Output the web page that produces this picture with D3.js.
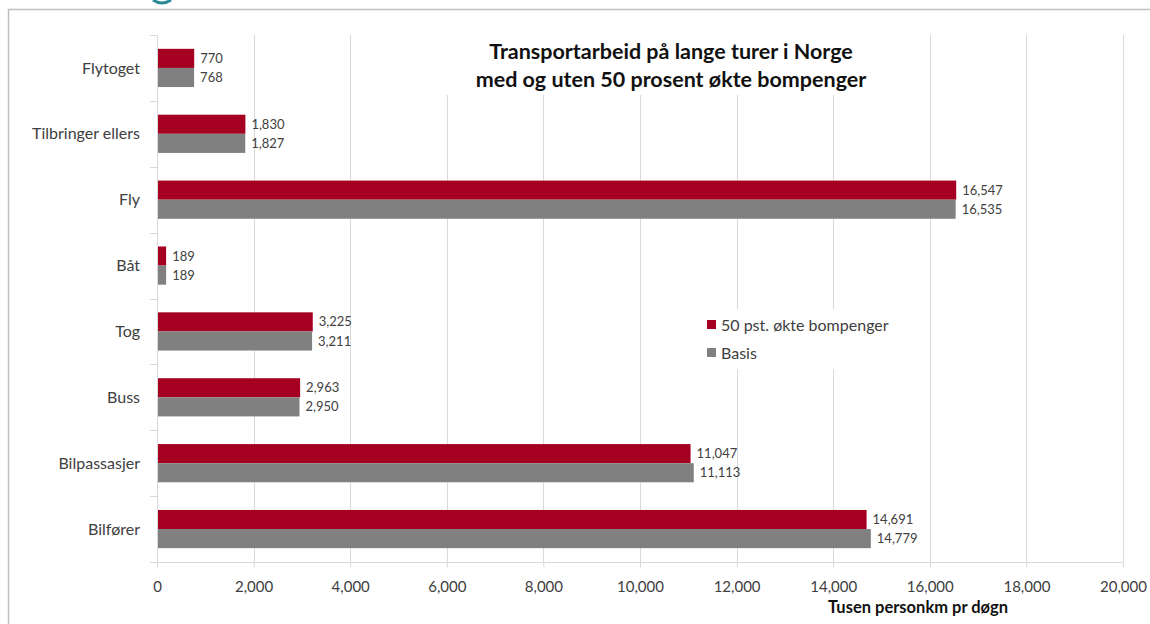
<!DOCTYPE html>
<html>
<head>
<meta charset="utf-8">
<script src="https://cdn.jsdelivr.net/npm/d3@7"></script>
<style>
  body { margin: 0; background: #fff; }
  svg { display: block; font-family: Lato, "Open Sans", sans-serif; }
</style>
</head>
<body>
<script>
// values
const categories = ['Flytoget', 'Tilbringer ellers', 'Fly', 'Båt', 'Tog', 'Buss', 'Bilpassasjer', 'Bilfører'];
const okte  = [770, 1830, 16547, 189, 3225, 2963, 11047, 14691];
const basis = [768, 1827, 16535, 189, 3211, 2950, 11113, 14779];
const xTicks = [0, 2000, 4000, 6000, 8000, 10000, 12000, 14000, 16000, 18000, 20000];
const seriesNames = ['50 pst. økte bompenger', 'Basis'];
const seriesColors = ['#a50021', '#808080'];
const titleLines = ['Transportarbeid på lange turer i Norge', 'med og uten 50 prosent økte bompenger'];
const xTitle = 'Tusen personkm pr døgn';

const chartW = 1150, chartH = 624;
const plotL = 157, plotR = 1123, plotT = 35, plotB = 562;
const gridColor = '#d9d9d9';
const textColor = '#404040';

const svg = d3.select('body').append('svg')
              .attr('width', chartW)
              .attr('height', chartH);

// outer frame
svg.append('path')
   .attr('d', `M8.5,${chartH} V9.5 H${chartW}`)
   .attr('fill', 'none')
   .attr('stroke', '#bfbfbf')
   .attr('stroke-width', 1.5);
// bit of teal letter cut off at the top
svg.append('path')
   .attr('d', 'M153,0 Q162,6 171,0')
   .attr('fill', 'none')
   .attr('stroke', '#2a8a95')
   .attr('stroke-width', 3);

const x = d3.scaleLinear().domain([0, 20000]).range([plotL, plotR]);
const y = d3.scaleBand().domain(categories).range([plotT, plotB])
            .paddingInner(0.42).paddingOuter(0.21);
const ySub = d3.scaleBand().domain([0, 1]).range([0, y.bandwidth()]);
const step = y.step();

// gridlines
svg.append('g')
   .selectAll('line')
   .data(xTicks.slice(1))
   .enter()
   .append('line')
   .attr('x1', d => Math.round(x(d)) + 0.5)
   .attr('x2', d => Math.round(x(d)) + 0.5)
   .attr('y1', plotT)
   .attr('y2', plotB)
   .attr('stroke', gridColor);

// x axis
const xAxis = svg.append('g')
   .attr('transform', `translate(0,${plotB + 0.5})`)
   .call(d3.axisBottom(x).tickValues(xTicks).tickSize(5).tickSizeOuter(0)
           .tickFormat(d3.format(',')));
xAxis.select('.domain').attr('stroke', gridColor).attr('d', `M${plotL - 7},0H${plotR}`);
xAxis.selectAll('.tick line').attr('stroke', gridColor);
xAxis.selectAll('.tick text')
     .attr('y', 19)
     .attr('fill', textColor)
     .style('font-family', 'Lato, sans-serif')
     .style('font-size', '15px');

// y axis line + boundary ticks
svg.append('line')
   .attr('x1', plotL + 0.5).attr('x2', plotL + 0.5)
   .attr('y1', plotT).attr('y2', plotB)
   .attr('stroke', gridColor);
svg.append('g')
   .selectAll('line')
   .data(categories)
   .enter()
   .append('line')
   .attr('x1', plotL - 7)
   .attr('x2', plotL)
   .attr('y1', d => Math.round(y(d) - step * 0.21) + 0.5)
   .attr('y2', d => Math.round(y(d) - step * 0.21) + 0.5)
   .attr('stroke', gridColor);

// category labels
svg.append('g')
   .selectAll('text')
   .data(categories)
   .enter()
   .append('text')
   .attr('x', 140)
   .attr('y', d => y(d) + y.bandwidth() / 2)
   .attr('dy', '0.35em')
   .attr('text-anchor', 'end')
   .attr('fill', textColor)
   .style('font-size', '16px')
   .text(d => d);

// title box (covers gridlines)
svg.append('rect')
   .attr('x', 395).attr('y', plotT)
   .attr('width', 485).attr('height', 60)
   .attr('fill', '#fff');
svg.append('g')
   .selectAll('text')
   .data(titleLines)
   .enter()
   .append('text')
   .attr('x', 671)
   .attr('y', (d, i) => 59 + i * 28)
   .attr('text-anchor', 'middle')
   .attr('fill', '#111')
   .style('font-size', '21.5px')
   .style('font-weight', 'bold')
   .text(d => d);

// bars
const series = [okte, basis];
series.forEach((vals, s) => {
   const g = svg.append('g');
   g.selectAll('rect')
    .data(categories)
    .enter()
    .append('rect')
    .attr('x', plotL + 1)
    .attr('y', d => y(d) + ySub(s))
    .attr('width', (d, i) => x(vals[i]) - plotL - 1)
    .attr('height', ySub.bandwidth())
    .attr('fill', seriesColors[s]);
   g.selectAll('text')
    .data(categories)
    .enter()
    .append('text')
    .attr('x', (d, i) => x(vals[i]) + 6)
    .attr('y', d => y(d) + ySub(s) + ySub.bandwidth() / 2)
    .attr('dy', '0.35em')
    .attr('fill', textColor)
    .style('font-size', '13px')
    .text((d, i) => d3.format(',')(vals[i]));
});

// x title
svg.append('text')
   .attr('x', 918)
   .attr('y', 613)
   .attr('text-anchor', 'middle')
   .attr('fill', '#111')
   .style('font-size', '16.5px')
   .style('font-weight', 'bold')
   .text(xTitle);

// legend
const legend = svg.append('g');
legend.append('rect')
      .attr('x', 700).attr('y', 309)
      .attr('width', 200).attr('height', 60)
      .attr('fill', '#fff');
seriesNames.forEach((name, i) => {
   legend.append('rect')
         .attr('x', 707).attr('y', 320 + i * 28)
         .attr('width', 9).attr('height', 9)
         .attr('fill', seriesColors[i]);
   legend.append('text')
         .attr('x', 721).attr('y', 325 + i * 28)
         .attr('dy', '0.35em')
         .attr('fill', textColor)
         .style('font-size', '16px')
         .text(name);
});
</script>
</body>
</html>
